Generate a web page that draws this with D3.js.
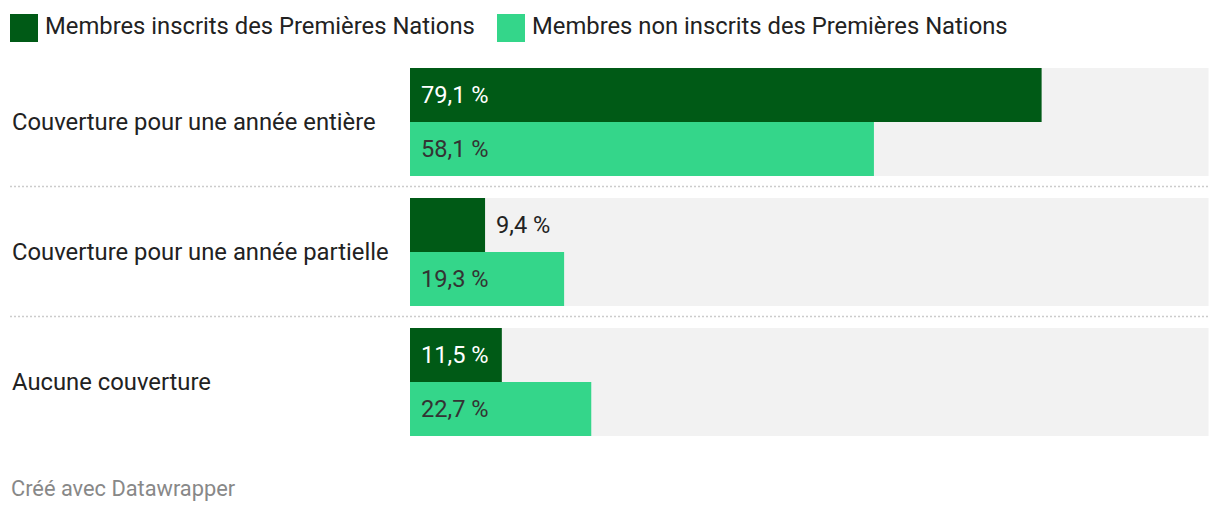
<!DOCTYPE html>
<html><head><meta charset="utf-8">
<script src="https://cdn.jsdelivr.net/npm/d3@7"></script>
<style>
html,body{margin:0;padding:0;background:#fff;}
svg{display:block;font-family:Roboto,"Noto Sans",sans-serif;}
</style></head>
<body><svg id="c" width="1220" height="514"></svg>
<script>
const categories = ["Couverture pour une année entière","Couverture pour une année partielle","Aucune couverture"];
const seriesNames = ["Membres inscrits des Premières Nations","Membres non inscrits des Premières Nations"];
const registered = [79.1, 9.4, 11.5];
const nonRegistered = [58.1, 19.3, 22.7];
const colors = ["#005a16", "#34d68a"];
const svg = d3.select("#c");
const x = d3.scaleLinear().domain([0,100]).range([410,1208.5]);
const yGroup = d3.scaleLinear().domain([0, categories.length-1]).range([68,328]);
const ySub = d3.scaleBand().domain([0,1]).range([0,108]);
const fmt = v => v.toFixed(1).replace(".", ",") + " %";

// legend
const lg = svg.append("g");
const lx = [10, 497];
seriesNames.forEach((s,i)=>{
  lg.append("rect").attr("x",lx[i]).attr("y",14).attr("width",28).attr("height",28).attr("fill",colors[i]);
  lg.append("text").attr("x",lx[i]+35).attr("y",26).attr("dominant-baseline","central")
    .attr("font-size",23.8).attr("fill","#222").text(s);
});

// separators
categories.slice(1).forEach((c,i)=>{
  const yy = yGroup(i+1) - 11.5;
  svg.append("line").attr("x1",10).attr("x2",1208).attr("y1",yy).attr("y2",yy)
    .attr("stroke","#cccccc").attr("stroke-width",1.5).attr("stroke-dasharray","2,2");
});

categories.forEach((c,ci)=>{
  const g = svg.append("g").attr("transform",`translate(0,${yGroup(ci)})`);
  g.append("rect").attr("x",x(0)).attr("y",0).attr("width",x(100)-x(0)).attr("height",108).attr("fill","#f2f2f2");
  g.append("text").attr("x",12).attr("y",54).attr("dominant-baseline","central").attr("font-size",23.8).attr("fill","#222").text(c);
  const vals = [registered[ci], nonRegistered[ci]];
  vals.forEach((v,si)=>{
    const y0 = ySub(si);
    const w = x(v)-x(0);
    g.append("rect").attr("x",x(0)).attr("y",y0).attr("width",w).attr("height",ySub.bandwidth()).attr("fill",colors[si]);
    const label = fmt(v);
    const inside = w > 90;
    g.append("text").attr("x", inside ? x(0)+11 : x(v)+11).attr("y", y0+ySub.bandwidth()/2)
      .attr("dominant-baseline","central").attr("font-size",23.6)
      .attr("fill", inside ? (si===0 ? "#ffffff" : "#333333") : "#222")
      .text(label);
  });
});

svg.append("text").attr("x",11).attr("y",488).attr("dominant-baseline","central")
  .attr("font-size",21.8).attr("fill","#888").text("Créé avec Datawrapper");
</script></body></html>
